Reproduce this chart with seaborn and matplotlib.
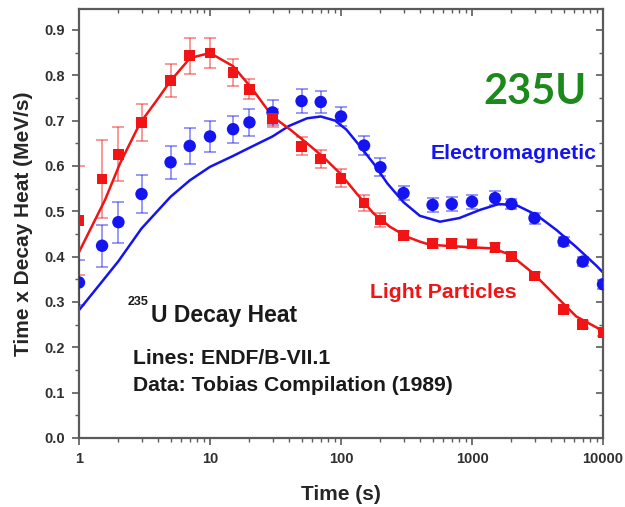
import numpy as np
import pandas as pd
import matplotlib
matplotlib.use("Agg")
import matplotlib.pyplot as plt
import seaborn as sns
from matplotlib.ticker import (LogLocator, MultipleLocator, NullFormatter,
                               FixedLocator, FixedFormatter, FormatStrFormatter)

# Measured decay-heat data (Tobias compilation)
time_pts = [1, 1.5, 2, 3, 5, 7, 10, 15, 20, 30, 50, 70, 100, 150, 200, 300,
            500, 700, 1000, 1500, 2000, 3000, 5000, 7000, 10000]
light_pts = [0.48, 0.571, 0.626, 0.696, 0.788, 0.843, 0.849, 0.806, 0.769, 0.705,
             0.643, 0.615, 0.573, 0.518, 0.481, 0.447, 0.429, 0.429, 0.428, 0.42,
             0.40, 0.357, 0.284, 0.251, 0.232]
light_err = [0.12, 0.086, 0.06, 0.04, 0.036, 0.04, 0.034, 0.03, 0.022, 0.02,
             0.02, 0.02, 0.02, 0.018, 0.015, 0.01, 0.01, 0.01, 0.01, 0.01,
             0.01, 0.008, 0.008, 0.008, 0.008]
em_pts = [0.343, 0.424, 0.476, 0.538, 0.608, 0.644, 0.665, 0.681, 0.696, 0.718,
          0.743, 0.741, 0.709, 0.645, 0.597, 0.54, 0.514, 0.516, 0.521, 0.529,
          0.516, 0.485, 0.433, 0.389, 0.339]
em_err = [0.05, 0.046, 0.045, 0.042, 0.036, 0.039, 0.035, 0.03, 0.03, 0.028,
          0.026, 0.025, 0.02, 0.02, 0.02, 0.015, 0.015, 0.015, 0.015, 0.015,
          0.012, 0.012, 0.01, 0.01, 0.01]

# ENDF/B-VII.1 summation curves
light_t = [1, 1.21, 1.58, 2.06, 2.92, 4.0, 4.95, 7.05, 10, 15, 21, 30, 41, 55, 73,
           98, 131, 176, 236, 317, 400, 480, 810, 1450, 1960, 2940, 4400, 6250,
           10000]
light_line = [0.41, 0.458, 0.525, 0.606, 0.694, 0.748, 0.786, 0.838, 0.849, 0.82,
              0.77, 0.709, 0.68, 0.65, 0.62, 0.584, 0.54, 0.496, 0.466, 0.444,
              0.433, 0.426, 0.422, 0.418, 0.404, 0.363, 0.312, 0.268, 0.236]
em_t = [1, 1.5, 2, 3, 5, 7, 10, 15, 20, 30, 40, 55, 70, 90, 110, 140, 180, 225,
        300, 400, 570, 800, 1150, 1600, 2200, 3100, 4400, 6200, 8900, 10000]
em_line = [0.282, 0.345, 0.39, 0.462, 0.532, 0.568, 0.598, 0.622, 0.64, 0.665,
           0.688, 0.705, 0.709, 0.70, 0.68, 0.643, 0.603, 0.562, 0.52, 0.49,
           0.477, 0.485, 0.503, 0.516, 0.513, 0.492, 0.459, 0.422, 0.38, 0.365]

x_ticks = [1, 10, 100, 1000, 10000]
x_ticklabels = ["1", "10", "100", "1000", "10000"]

RED = "#f01414"
BLUE = "#1414f0"
SPINE = "#5a5a5a"
INK = "#1a1a1a"

sns.set_style("ticks")
plt.rcParams["font.family"] = ["Liberation Sans", "DejaVu Sans"]
plt.rcParams["font.weight"] = "bold"

fig = plt.figure(figsize=(6.25, 5.07), dpi=100)
ax = fig.add_axes([0.1264, 0.1361, 0.8384, 0.8461])

pts = pd.DataFrame({"t": time_pts, "light": light_pts, "em": em_pts})
lines_l = pd.DataFrame({"t": light_t, "v": light_line})
lines_e = pd.DataFrame({"t": em_t, "v": em_line})

ax.set_xscale("log")

sns.lineplot(data=lines_e, x="t", y="v", ax=ax, color=BLUE, lw=1.8, zorder=2)
sns.lineplot(data=lines_l, x="t", y="v", ax=ax, color=RED, lw=1.8, zorder=2)

ax.errorbar(time_pts, em_pts, yerr=em_err, fmt="none", ecolor=BLUE, alpha=0.55,
            elinewidth=1.1, capsize=4, capthick=1.1, zorder=3)
ax.errorbar(time_pts, light_pts, yerr=light_err, fmt="none", ecolor=RED, alpha=0.55,
            elinewidth=1.1, capsize=4, capthick=1.1, zorder=3)

sns.scatterplot(data=pts, x="t", y="em", ax=ax, color=BLUE, marker="o", s=80,
                edgecolor="none", zorder=4)
sns.scatterplot(data=pts, x="t", y="light", ax=ax, color=RED, marker="s", s=60,
                edgecolor="none", zorder=4)

ax.set_xlim(1, 10000)
ax.set_ylim(0, 0.946)

ax.xaxis.set_major_locator(FixedLocator(x_ticks))
ax.xaxis.set_major_formatter(FixedFormatter(x_ticklabels))
ax.xaxis.set_minor_locator(LogLocator(base=10, subs=np.arange(2, 10), numticks=20))
ax.xaxis.set_minor_formatter(NullFormatter())
ax.yaxis.set_major_locator(MultipleLocator(0.1))
ax.yaxis.set_minor_locator(MultipleLocator(0.05))
ax.yaxis.set_major_formatter(FormatStrFormatter("%.1f"))

for sp in ax.spines.values():
    sp.set_color(SPINE)
    sp.set_linewidth(1.6)
    sp.set_visible(True)

ax.tick_params(which="major", direction="out", length=5, width=1.2, color=SPINE,
               labelsize=10.5, pad=5)
ax.tick_params(which="minor", direction="out", length=2.8, width=1.0, color=SPINE)
for lab in ax.get_xticklabels() + ax.get_yticklabels():
    lab.set_fontweight("bold")
    lab.set_color("#303030")

# Inward ticks on the top and right edges
top = ax.secondary_xaxis("top")
top.xaxis.set_major_locator(FixedLocator(x_ticks))
top.xaxis.set_minor_locator(LogLocator(base=10, subs=np.arange(2, 10), numticks=20))
top.tick_params(which="major", direction="in", length=5, width=1.2, color=SPINE, labeltop=False)
top.tick_params(which="minor", direction="in", length=2.8, width=1.0, color=SPINE)
top.spines["top"].set_visible(False)
right = ax.secondary_yaxis("right")
right.yaxis.set_major_locator(MultipleLocator(0.1))
right.yaxis.set_minor_locator(MultipleLocator(0.05))
right.tick_params(which="major", direction="in", length=5, width=1.2, color=SPINE, labelright=False)
right.tick_params(which="minor", direction="in", length=2.8, width=1.0, color=SPINE)
right.spines["right"].set_visible(False)

ax.set_xlabel("Time (s)", fontsize=15, fontweight="bold", labelpad=14)
ax.set_ylabel("Time x Decay Heat (MeV/s)", fontsize=15, fontweight="bold", labelpad=8)

ax.text(0.969, 0.806, "235U", transform=ax.transAxes, ha="right", va="center",
        fontsize=30, fontweight="bold", color="#1b8a1b", family=["Lato", "DejaVu Sans"])
ax.text(0.9885, 0.664, "Electromagnetic", transform=ax.transAxes, ha="right", va="center",
        fontsize=15.3, fontweight="bold", color=BLUE)
ax.text(0.836, 0.340, "Light Particles", transform=ax.transAxes, ha="right", va="center",
        fontsize=15.3, fontweight="bold", color=RED)

# Title block: isotope mass number as a small raised prefix
ax.text(0.0935, 0.316, "235", transform=ax.transAxes, ha="left", va="center",
        fontsize=9, fontweight="bold", color=INK)
ax.text(0.138, 0.285, "U Decay Heat", transform=ax.transAxes, ha="left",
        va="center", fontsize=16.5, fontweight="bold", color=INK)
ax.text(0.104, 0.185, "Lines: ENDF/B-VII.1", transform=ax.transAxes, ha="left",
        va="center", fontsize=15.2, fontweight="bold", color=INK)
ax.text(0.104, 0.122, "Data: Tobias Compilation (1989)", transform=ax.transAxes,
        ha="left", va="center", fontsize=15.2, fontweight="bold", color=INK)

fig.savefig("out.png", dpi=100)
